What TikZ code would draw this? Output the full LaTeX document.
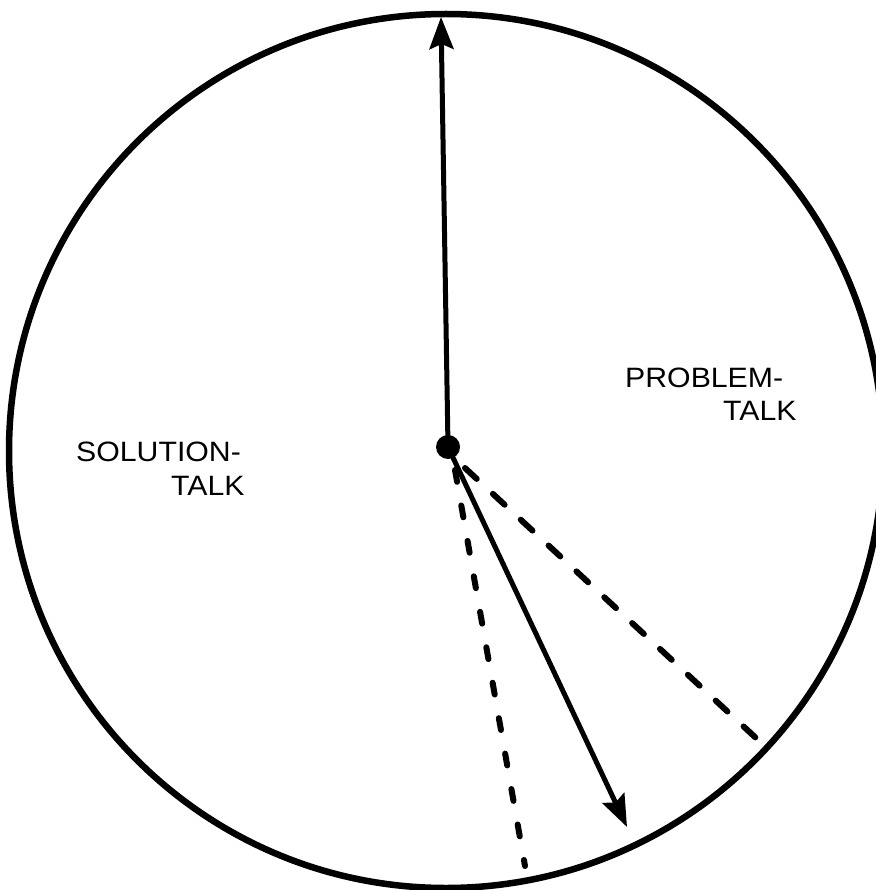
\documentclass[tikz,border=0pt]{standalone}
\usepackage{fontspec}
\setmainfont{Liberation Sans}
\usetikzlibrary{arrows.meta}
\begin{document}
\begin{tikzpicture}[x=1pt,y=-1pt,
  rim/.style={line width=6.5pt},
  hand/.style={line width=5pt, line cap=round},
  tipstyle/.style={-{Stealth[length=32pt,width=24pt,inset=5pt]}},
  dashA/.style={line width=6pt, line cap=round, dash pattern=on 12pt off 24pt},
  dashB/.style={line width=6pt, line cap=round, dash pattern=on 16pt off 22pt},
  lbl/.style={font=\fontsize{28}{28}\selectfont, inner sep=0pt, xscale=1.08, anchor=base west}]
\useasboundingbox (0,0) rectangle (875,890);
\fill[white] (0,0) rectangle (875,890);
\draw[rim] (446,451) circle (437);
\node[circle, fill=black, minimum size=24pt, inner sep=0pt] (hub) at (448,447) {};
\coordinate (top) at (441,17);
\coordinate (tipB) at (627,827);
\coordinate (dAs) at (455,470);
\coordinate (dAe) at (525,866);
\coordinate (dBs) at (465,468);
\coordinate (dBe) at (756,738);
\draw[hand, tipstyle] (hub.center) -- (top);
\draw[hand, tipstyle] (hub.center) -- (tipB);
\draw[dashA] (dAs) -- (dAe);
\draw[dashB] (dBs) -- (dBe);
\node[lbl] (sol1) at (76,461) {SOLUTION-};
\node[lbl] (sol2) at (171,495) {TALK};
\node[lbl] (pro1) at (625,387) {PROBLEM-};
\node[lbl] (pro2) at (723,420) {TALK};
\end{tikzpicture}
\end{document}
